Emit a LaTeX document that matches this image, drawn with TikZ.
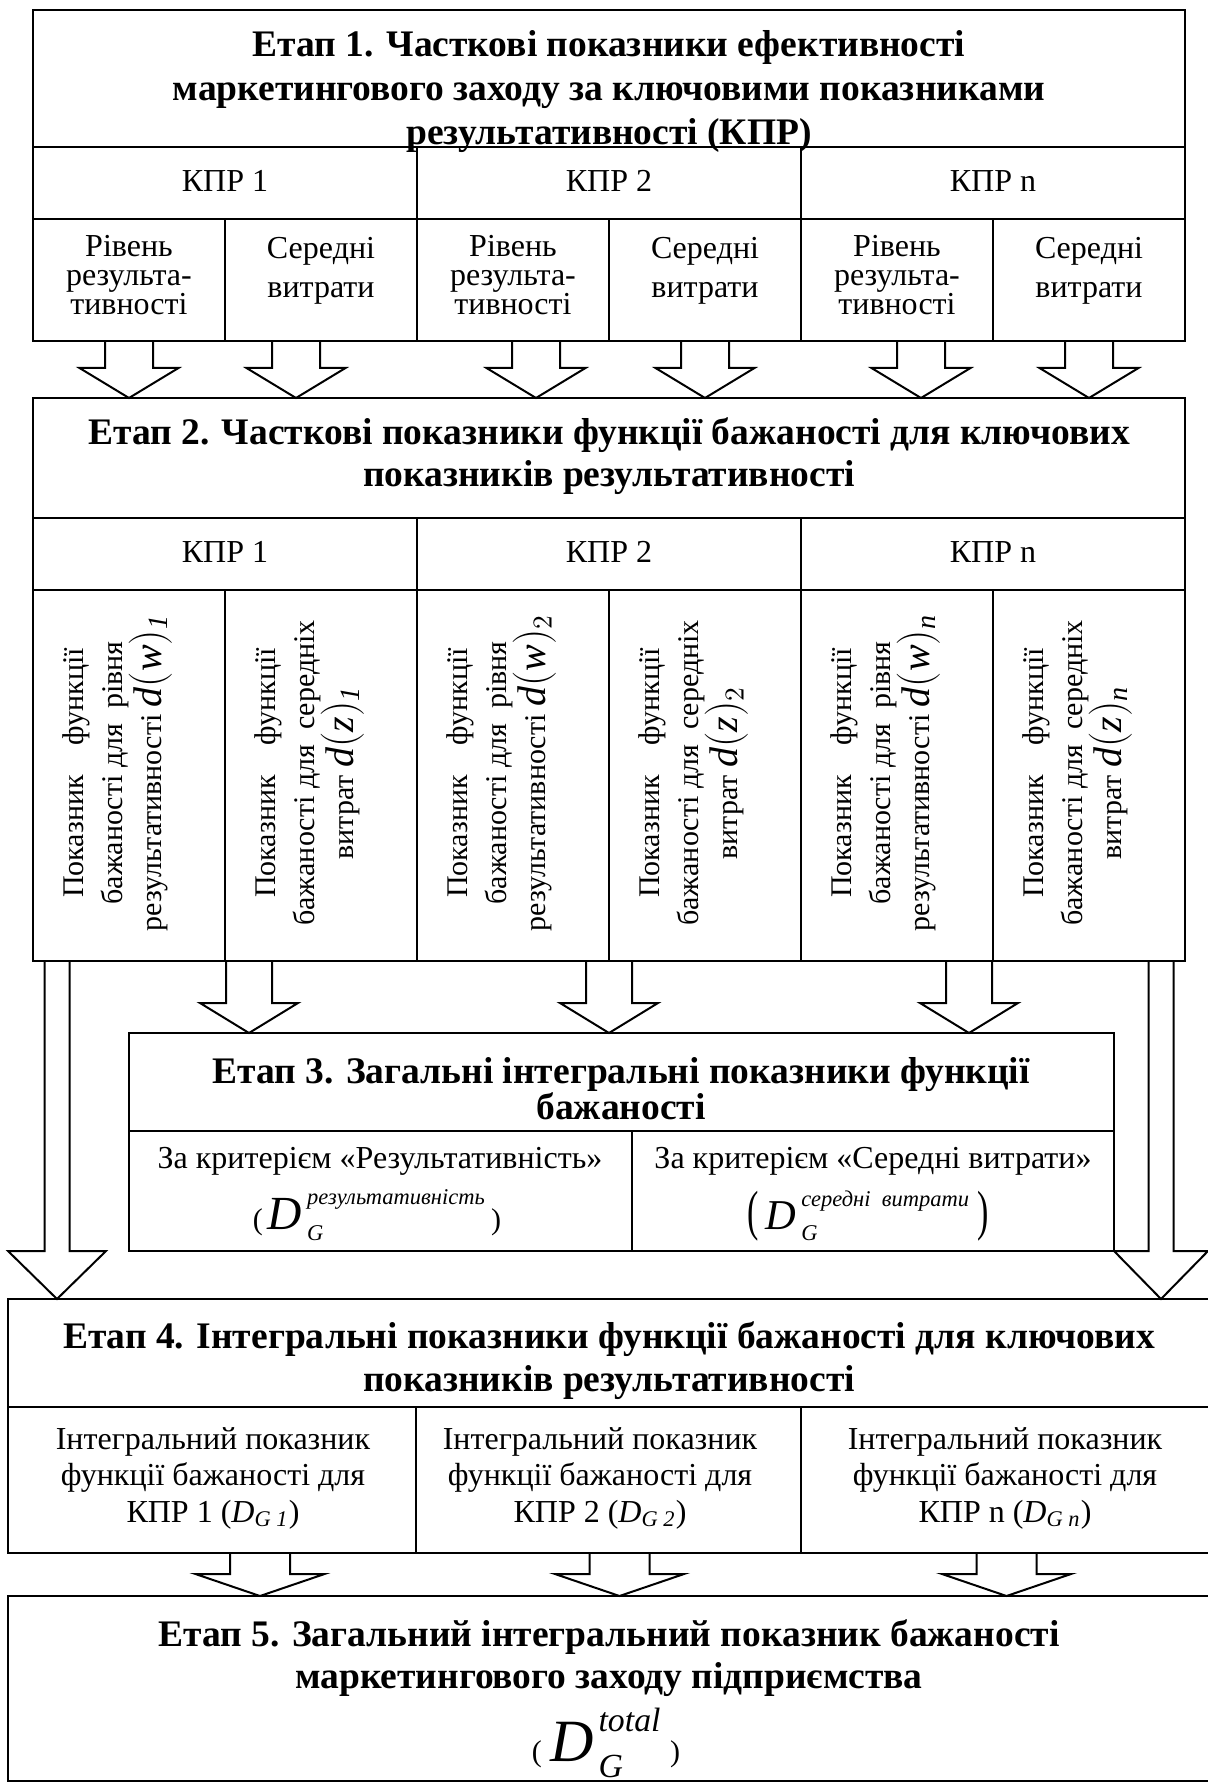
\documentclass[tikz,border=0pt]{standalone}
\usepackage{amsmath}
\usepackage{graphicx}
\usepackage{fontspec}
\setmainfont{Liberation Serif}
\usetikzlibrary{calc,fit}

\begin{document}
\begin{tikzpicture}[x=0.4pt,y=-0.4pt,
    cell/.style={draw,line width=0.8pt,inner sep=0pt,outer sep=0pt},
    ttl/.style={font=\fontsize{15}{17.2}\selectfont\bfseries,align=center,inner sep=1pt},
    lbl/.style={font=\fontsize{12.8}{14.6}\selectfont,align=center,inner sep=1pt},
    frm/.style={inner sep=1pt},
    vlbl/.style={font=\fontsize{12}{15.6}\selectfont,align=center,rotate=90,inner sep=1pt},
    blockto/.style n args={3}{line width=0.8pt,to path={let \p1=(\tikztostart),\p2=(\tikztotarget) in
      (\x1-0.2*#1,\y1) -- (\x1-0.2*#1,\y2+0.4*#3) -- (\x1-0.2*#2,\y2+0.4*#3) -- (\x1,\y2)
      -- (\x1+0.2*#2,\y2+0.4*#3) -- (\x1+0.2*#1,\y2+0.4*#3) -- (\x1+0.2*#1,\y1)}}]
  \useasboundingbox (0,0) rectangle (1207,1783);

  % Etap 1
  \node[cell,fit={(33,10)(1185,147)}] (et1) {};
  \node[cell,fit={(33,147)(417,219)}] (kpr11) {};
  \node[cell,fit={(417,147)(801,219)}] (kpr12) {};
  \node[cell,fit={(801,147)(1185,219)}] (kpr13) {};
  \node[cell,fit={(33,219)(225,341)}] (sub11) {};
  \node[cell,fit={(225,219)(417,341)}] (sub12) {};
  \node[cell,fit={(417,219)(609,341)}] (sub13) {};
  \node[cell,fit={(609,219)(801,341)}] (sub14) {};
  \node[cell,fit={(801,219)(993,341)}] (sub15) {};
  \node[cell,fit={(993,219)(1185,341)}] (sub16) {};
  \node[ttl,font=\fontsize{15}{17.6}\selectfont\bfseries] (et1t) at (609,92) {Етап 1. Часткові показники ефективності\\маркетингового заходу за ключовими показниками\\результативності (КПР)};
  \node[lbl] (kpr11t) at (225,181) {КПР 1};
  \node[lbl] (kpr12t) at (609,181) {КПР 2};
  \node[lbl] (kpr13t) at (993,181) {КПР n};
  \node[lbl,font=\fontsize{12.8}{11.6}\selectfont] (sub11t) at (129,275) {Рівень\\результа-\\тивності};
  \node[lbl,font=\fontsize{12.8}{15.4}\selectfont] (sub12t) at (321,271) {Середні\\витрати};
  \node[lbl,font=\fontsize{12.8}{11.6}\selectfont] (sub13t) at (513,275) {Рівень\\результа-\\тивності};
  \node[lbl,font=\fontsize{12.8}{15.4}\selectfont] (sub14t) at (705,271) {Середні\\витрати};
  \node[lbl,font=\fontsize{12.8}{11.6}\selectfont] (sub15t) at (897,275) {Рівень\\результа-\\тивності};
  \node[lbl,font=\fontsize{12.8}{15.4}\selectfont] (sub16t) at (1089,271) {Середні\\витрати};

  % Etap 2
  \node[cell,fit={(33,398)(1185,518)}] (et2) {};
  \node[cell,fit={(33,518)(417,590)}] (kpr21) {};
  \node[cell,fit={(417,518)(801,590)}] (kpr22) {};
  \node[cell,fit={(801,518)(1185,590)}] (kpr23) {};
  \node[cell,fit={(33,590)(225,961)}] (sub21) {};
  \node[cell,fit={(225,590)(417,961)}] (sub22) {};
  \node[cell,fit={(417,590)(609,961)}] (sub23) {};
  \node[cell,fit={(609,590)(801,961)}] (sub24) {};
  \node[cell,fit={(801,590)(993,961)}] (sub25) {};
  \node[cell,fit={(993,590)(1185,961)}] (sub26) {};
  \node[ttl,font=\fontsize{15}{16.8}\selectfont\bfseries] (et2t) at (609,456) {Етап 2. Часткові показники функції бажаності для ключових\\показників результативності};
  \node[lbl] (kpr21t) at (225,552) {КПР 1};
  \node[lbl] (kpr22t) at (609,552) {КПР 2};
  \node[lbl] (kpr23t) at (993,552) {КПР n};
  \node[vlbl] (sub21t) at (117,773) {Показник\ \ \ \ функції\\бажаності для\ \ рівня\\результативності {\fontsize{16}{16}\selectfont$\textit{d}(\textit{w})_{\textit{1}}$}};
  \node[vlbl] (sub22t) at (309,773) {Показник\ \ \ \ функції\\бажаності для\ \ середніх\\витрат {\fontsize{16}{16}\selectfont$\textit{d}(\textit{z})_{\textit{1}}$}};
  \node[vlbl] (sub23t) at (501,773) {Показник\ \ \ \ функції\\бажаності для\ \ рівня\\результативності {\fontsize{16}{16}\selectfont$\textit{d}(\textit{w})_{2}$}};
  \node[vlbl] (sub24t) at (693,773) {Показник\ \ \ \ функції\\бажаності для\ \ середніх\\витрат {\fontsize{16}{16}\selectfont$\textit{d}(\textit{z})_{2}$}};
  \node[vlbl] (sub25t) at (885,773) {Показник\ \ \ \ функції\\бажаності для\ \ рівня\\результативності {\fontsize{16}{16}\selectfont$\textit{d}(\textit{w})_{\textit{n}}$}};
  \node[vlbl] (sub26t) at (1077,773) {Показник\ \ \ \ функції\\бажаності для\ \ середніх\\витрат {\fontsize{16}{16}\selectfont$\textit{d}(\textit{z})_{\textit{n}}$}};

  % Etap 3
  \node[cell,fit={(129,1033)(1114,1131)}] (et3) {};
  \node[cell,fit={(129,1131)(632,1251)}] (krit31) {};
  \node[cell,fit={(632,1131)(1114,1251)}] (krit32) {};
  \node[ttl,font=\fontsize{15}{14.5}\selectfont\bfseries] (et3t) at (621,1089) {Етап 3. Загальні інтегральні показники функції\\бажаності};
  \node[lbl] (krit31t) at (380,1161) {За критерієм «Результативність»};
  \node[frm] (krit31f) at (377,1215) {{\fontsize{12}{12}\selectfont(\,}{\fontsize{19}{19}\selectfont$\textit{D\kern2pt}^{\raisebox{3pt}{\fontsize{9}{9}\selectfont\itshape результативність}}_{\hbox{\fontsize{9}{9}\selectfont\itshape G}}$}{\fontsize{12}{12}\selectfont\,)}};
  \node[lbl] (krit32t) at (873,1161) {За критерієм «Середні витрати»};
  \node[frm] (krit32f) at (868,1216) {\fontsize{17}{17}\selectfont\scalebox{0.8}[1.3]{(}\,$\textit{D\kern2pt}^{\raisebox{3pt}{\fontsize{9}{9}\selectfont\itshape середні\ \ витрати}}_{\hbox{\fontsize{9}{9}\selectfont\itshape G}}$\,\scalebox{0.8}[1.3]{)}};

  % Etap 4
  \node[cell,fit={(8,1299)(1212,1407)}] (et4) {};
  \node[cell,fit={(8,1407)(416,1553)}] (int41) {};
  \node[cell,fit={(416,1407)(801,1553)}] (int42) {};
  \node[cell,fit={(801,1407)(1212,1553)}] (int43) {};
  \node[ttl] (et4t) at (609,1361) {Етап 4. Інтегральні показники функції бажаності для ключових\\показників результативності};
  \node[lbl] (int41t) at (213,1478) {Інтегральний показник\\функції бажаності для\\КПР 1 ($\textit{D}_{\textit{G 1}}$)};
  \node[lbl] (int42t) at (600,1478) {Інтегральний показник\\функції бажаності для\\КПР 2 ($\textit{D}_{\textit{G 2}}$)};
  \node[lbl] (int43t) at (1005,1478) {Інтегральний показник\\функції бажаності для\\КПР n ($\textit{D}_{\textit{G n}}$)};

  % Etap 5
  \node[cell,fit={(8,1596)(1212,1781)}] (et5) {};
  \node[ttl,font=\fontsize{15}{16.8}\selectfont\bfseries] (et5t) at (609,1658) {Етап 5. Загальний інтегральний показник бажаності\\маркетингового заходу підприємства};
  \node[frm] (et5f) at (606,1743) {{\fontsize{12}{12}\selectfont(\;}{\fontsize{24}{24}\selectfont$\textit{D\kern2pt}^{\raisebox{3pt}{\fontsize{13.5}{13.5}\selectfont\itshape total}}_{\hbox{\fontsize{13.5}{13.5}\selectfont\itshape G}}$}{\fontsize{12}{12}\selectfont\;)}};

  % arrows 1 -> 2
  \coordinate (f12) at ($(sub12.south)+(-25,0)$);
  \coordinate (f13) at ($(sub13.south)+(23,0)$);
  \coordinate (f15) at ($(sub15.south)+(24,0)$);
  \draw[blockto={48}{99}{30}] (sub11.south) to (sub11.south |- et2.north);
  \draw[blockto={48}{99}{30}] (f12) to (f12 |- et2.north);
  \draw[blockto={48}{99}{30}] (f13) to (f13 |- et2.north);
  \draw[blockto={48}{99}{30}] (sub14.south) to (sub14.south |- et2.north);
  \draw[blockto={48}{99}{30}] (f15) to (f15 |- et2.north);
  \draw[blockto={48}{99}{30}] (sub16.south) to (sub16.south |- et2.north);

  % arrows 2 -> 3 and 2 -> 4
  \coordinate (g1) at ($(sub22.south west)+(24,0)$);
  \coordinate (g2) at (sub23.south east);
  \coordinate (g3) at ($(sub26.south west)+(-24,0)$);
  \draw[blockto={46}{98}{30}] (g1) to (g1 |- et3.north);
  \draw[blockto={46}{98}{30}] (g2) to (g2 |- et3.north);
  \draw[blockto={46}{98}{30}] (g3) to (g3 |- et3.north);
  \coordinate (h1) at ($(sub21.south west)+(24,0)$);
  \coordinate (h2) at ($(sub26.south east)+(-24,0)$);
  \draw[blockto={25}{98}{48}] (h1) to (h1 |- et4.north);
  \draw[blockto={25}{94}{48}] (h2) to (h2 |- et4.north);

  % arrows 4 -> 5
  \coordinate (j1) at ($(int41.south)+(48,0)$);
  \coordinate (j2) at ($(int42.south)+(11,0)$);
  \draw[blockto={60}{129}{22}] (j1) to (j1 |- et5.north);
  \draw[blockto={60}{129}{22}] (j2) to (j2 |- et5.north);
  \draw[blockto={60}{129}{22}] (int43.south) to (int43.south |- et5.north);
\end{tikzpicture}
\end{document}
